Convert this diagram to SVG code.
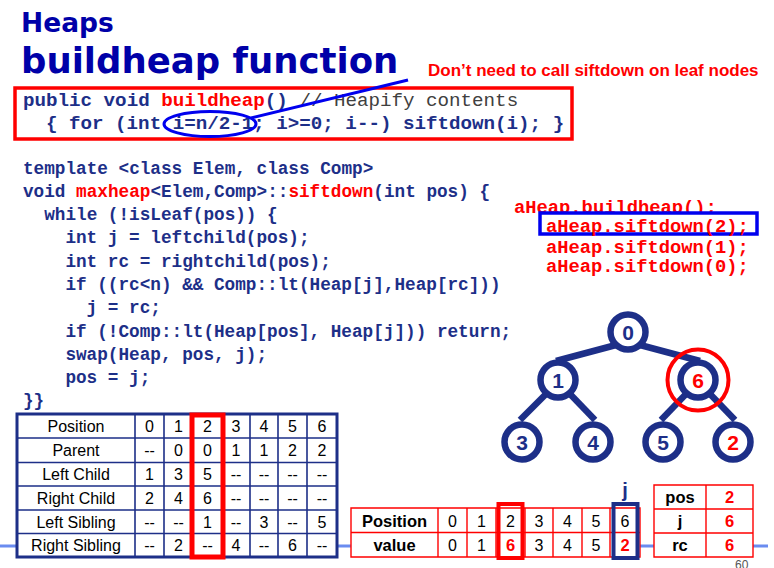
<svg xmlns="http://www.w3.org/2000/svg" width="774" height="568" viewBox="0 0 774 568">
  <style>
    .title { font-family: "DejaVu Sans", Verdana, sans-serif; font-weight: bold; fill: #0000a8; }
    .note { font-family: "Liberation Sans", Arial, sans-serif; font-weight: bold; font-size: 17px; fill: #ff0000; }
    .code { font-family: "Liberation Mono", "Courier New", monospace; font-weight: bold; fill: #1d2f88; }
    .c1 { font-size: 19.2px; }
    .c2 { font-size: 17.7px; }
    .red { fill: #ff0000; }
    .cmt { fill: #404040; font-weight: normal; }
    .call { font-family: "Liberation Mono", "Courier New", monospace; font-weight: bold; font-size: 18.8px; fill: #ff0000; }
    .edge { stroke: #1d2f88; stroke-width: 6.5; fill: none; }
    .node circle { fill: #ffffff; stroke: #1d2f88; stroke-width: 6.5; }
    .node text { font-family: "Liberation Sans", Arial, sans-serif; font-weight: bold; font-size: 21px; fill: #1d2f88; text-anchor: middle; }
    .node text.hot { fill: #ff0000; }
    .tbl { font-family: "Liberation Sans", Arial, sans-serif; font-size: 16px; fill: #000000; text-anchor: middle; }
    .tb { font-family: "Liberation Sans", Arial, sans-serif; font-size: 16.5px; font-weight: bold; fill: #000000; text-anchor: middle; }
    .tbr { font-family: "Liberation Sans", Arial, sans-serif; font-size: 16.5px; font-weight: bold; fill: #ff0000; text-anchor: middle; }
    .grid { stroke: #1d2f88; stroke-width: 1.6; fill: none; }
    .rgrid { stroke: #ff0000; stroke-width: 1.4; fill: none; }
  </style>

  <!-- footer rule, partly hidden by the tables -->
  <line x1="0" y1="546" x2="768" y2="546" stroke="#6a8cf0" stroke-width="3"/>
  <text x="735" y="569" font-family="Liberation Sans, Arial, sans-serif" font-size="12" fill="#555555">60</text>

  <!-- headings -->
  <text class="title" x="21" y="32" font-size="26.5">Heaps</text>
  <text class="title" x="21" y="73" font-size="35.5">buildheap function</text>
  <text class="note" x="428" y="76">Don’t need to call siftdown on leaf nodes</text>

  <!-- buildheap code box -->
  <g id="buildheap-code">
    <rect x="15" y="88" width="557" height="51" fill="none" stroke="#ff0000" stroke-width="3.5"/>
    <text class="code c1" x="23" y="106">public void <tspan class="red">buildheap</tspan>() <tspan class="cmt">// Heapify contents</tspan></text>
    <text class="code c1" x="46" y="129">{ for (int i=n/2-1; i&gt;=0; i--) siftdown(i); }</text>
  </g>

  <!-- siftdown code -->
  <g id="siftdown-code" class="code c2">
    <text x="23" y="174">template &lt;class Elem, class Comp&gt;</text>
    <text x="23" y="197">void <tspan class="red">maxheap</tspan>&lt;Elem,Comp&gt;::<tspan class="red">siftdown</tspan>(int pos) {</text>
    <text x="44.2" y="220">while (!isLeaf(pos)) {</text>
    <text x="65.4" y="243">int j = leftchild(pos);</text>
    <text x="65.4" y="267">int rc = rightchild(pos);</text>
    <text x="65.4" y="290">if ((rc&lt;n) &amp;&amp; Comp::lt(Heap[j],Heap[rc]))</text>
    <text x="86.6" y="313">j = rc;</text>
    <text x="65.4" y="337">if (!Comp::lt(Heap[pos], Heap[j])) return;</text>
    <text x="65.4" y="360">swap(Heap, pos, j);</text>
    <text x="65.4" y="383">pos = j;</text>
    <text x="23" y="406">}}</text>
  </g>

  <!-- call sequence -->
  <g id="calls">
    <text class="call" x="514" y="213">aHeap.buildheap();</text>
    <text class="call" x="546" y="253">aHeap.siftdown(1);</text>
    <text class="call" x="546" y="272">aHeap.siftdown(0);</text>
    <rect x="540" y="213" width="217" height="21" fill="#ffffff" stroke="#0000ee" stroke-width="3.5"/>
    <text class="call" x="546" y="232">aHeap.siftdown(2);</text>
  </g>

  <!-- connectors: tree edges and callout -->
  <g id="connectors">
    <line class="edge" x1="616" y1="345" x2="556" y2="361"/>
    <line class="edge" x1="640" y1="345" x2="700" y2="361"/>
    <line class="edge" x1="546" y1="394" x2="520" y2="420"/>
    <line class="edge" x1="570" y1="394" x2="595" y2="420"/>
    <line class="edge" x1="686" y1="394" x2="661" y2="420"/>
    <line class="edge" x1="710" y1="394" x2="735" y2="420"/>
    <ellipse cx="210" cy="124" rx="46" ry="12.5" fill="none" stroke="#0000ee" stroke-width="3"/>
    <line x1="251" y1="118" x2="408" y2="80" stroke="#0000ee" stroke-width="3"/>
  </g>

  <!-- heap nodes -->
  <g id="node-0" class="node"><circle cx="628" cy="332" r="17.5"/><text x="628" y="339.5">0</text></g>
  <g id="node-1" class="node"><circle cx="558" cy="380" r="17.5"/><text x="558" y="387.5">1</text></g>
  <g id="node-6" class="node"><circle cx="698" cy="380" r="17.5"/><text class="hot" x="698" y="387.5">6</text></g>
  <g id="node-3" class="node"><circle cx="522" cy="442" r="17.5"/><text x="522" y="449.5">3</text></g>
  <g id="node-4" class="node"><circle cx="593" cy="442" r="17.5"/><text x="593" y="449.5">4</text></g>
  <g id="node-5" class="node"><circle cx="663" cy="442" r="17.5"/><text x="663" y="449.5">5</text></g>
  <g id="node-2" class="node"><circle cx="733" cy="442" r="17.5"/><text class="hot" x="733" y="449.5">2</text></g>
  <circle id="focus-ring" cx="698" cy="380" r="30.5" fill="none" stroke="#ff0000" stroke-width="4"/>

  <!-- relationship table -->
  <g id="relation-table">
    <rect x="17" y="414" width="320" height="143" fill="#ffffff" stroke="#1d2f88" stroke-width="3"/>
    <path class="grid" d="M17 438H337M17 462.5H337M17 486H337M17 510H337M17 533.5H337M135 414V557M164 414V557M193 414V557M222 414V557M250 414V557M278 414V557M307 414V557"/>
    <g class="tbl">
      <text x="76" y="432">Position</text>
      <text x="149.5" y="432">0</text><text x="178.5" y="432">1</text><text x="207.5" y="432">2</text><text x="236" y="432">3</text><text x="264" y="432">4</text><text x="292.5" y="432">5</text><text x="322" y="432">6</text>
      <text x="76" y="456">Parent</text>
      <text x="149.5" y="456">--</text><text x="178.5" y="456">0</text><text x="207.5" y="456">0</text><text x="236" y="456">1</text><text x="264" y="456">1</text><text x="292.5" y="456">2</text><text x="322" y="456">2</text>
      <text x="76" y="480">Left Child</text>
      <text x="149.5" y="480">1</text><text x="178.5" y="480">3</text><text x="207.5" y="480">5</text><text x="236" y="480">--</text><text x="264" y="480">--</text><text x="292.5" y="480">--</text><text x="322" y="480">--</text>
      <text x="76" y="504">Right Child</text>
      <text x="149.5" y="504">2</text><text x="178.5" y="504">4</text><text x="207.5" y="504">6</text><text x="236" y="504">--</text><text x="264" y="504">--</text><text x="292.5" y="504">--</text><text x="322" y="504">--</text>
      <text x="76" y="527.5">Left Sibling</text>
      <text x="149.5" y="527.5">--</text><text x="178.5" y="527.5">--</text><text x="207.5" y="527.5">1</text><text x="236" y="527.5">--</text><text x="264" y="527.5">3</text><text x="292.5" y="527.5">--</text><text x="322" y="527.5">5</text>
      <text x="76" y="551">Right Sibling</text>
      <text x="149.5" y="551">--</text><text x="178.5" y="551">2</text><text x="207.5" y="551">--</text><text x="236" y="551">4</text><text x="264" y="551">--</text><text x="292.5" y="551">6</text><text x="322" y="551">--</text>
    </g>
    <rect x="192" y="415" width="31" height="142" fill="none" stroke="#ff0000" stroke-width="5"/>
  </g>

  <!-- array contents table -->
  <g id="value-table">
    <rect x="351" y="508" width="289" height="49" fill="#ffffff"/>
    <path class="rgrid" d="M351 508H640V557H351ZM351 532.5H640M438 508V557M467 508V557M496 508V557M525 508V557M553 508V557M582 508V557M610 508V557"/>
    <text class="tb" x="394.5" y="526.5">Position</text>
    <text class="tb" x="394.5" y="551">value</text>
    <g class="tbl" font-size="16.5">
      <text x="452.5" y="526.5">0</text><text x="481.5" y="526.5">1</text><text x="510.5" y="526.5">2</text><text x="539" y="526.5">3</text><text x="567.5" y="526.5">4</text><text x="596" y="526.5">5</text><text x="625" y="526.5">6</text>
      <text x="452.5" y="551">0</text><text x="481.5" y="551">1</text><text x="539" y="551">3</text><text x="567.5" y="551">4</text><text x="596" y="551">5</text>
    </g>
    <text class="tbr" x="510.5" y="551">6</text>
    <text class="tbr" x="625" y="551">2</text>
    <rect x="498.5" y="504" width="24" height="54" fill="none" stroke="#ff0000" stroke-width="4"/>
    <rect x="613.5" y="504" width="24" height="54" fill="none" stroke="#1d2f88" stroke-width="4"/>
    <text x="625" y="497" font-family="Liberation Sans, Arial, sans-serif" font-weight="bold" font-size="20" fill="#1d2f88" text-anchor="middle">j</text>
  </g>

  <!-- variable table -->
  <g id="var-table">
    <rect x="654" y="485" width="99" height="72" fill="#ffffff"/>
    <path class="rgrid" d="M654 485H753V557H654ZM654 509H753M654 533H753M706 485V557"/>
    <text class="tb" x="680" y="503">pos</text>
    <text class="tb" x="680" y="527">j</text>
    <text class="tb" x="680" y="551">rc</text>
    <text class="tbr" x="729.5" y="503">2</text>
    <text class="tbr" x="729.5" y="527">6</text>
    <text class="tbr" x="729.5" y="551">6</text>
  </g>
</svg>
